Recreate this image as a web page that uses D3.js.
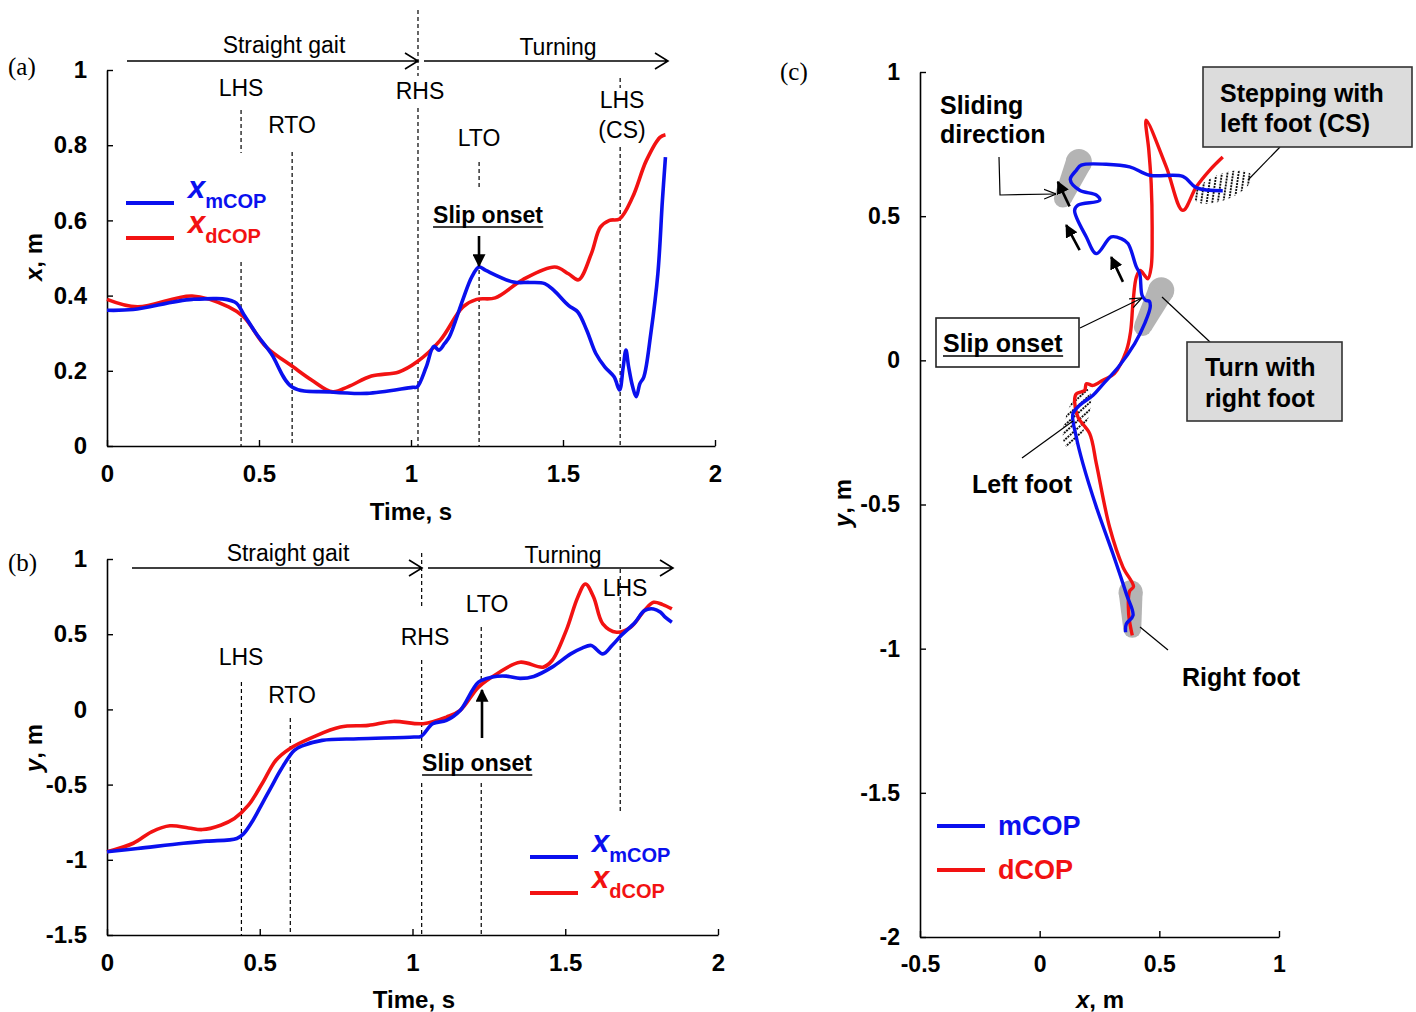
<!DOCTYPE html>
<html><head><meta charset="utf-8">
<script src="https://cdn.jsdelivr.net/npm/d3@7"></script>
<style>
body{margin:0;background:#fff;}
svg{font-family:"Liberation Sans",Arial,Helvetica,sans-serif;}
</style></head><body>
<svg id="chart" width="1416" height="1012"></svg>
<script>
// ---------------- DATA ----------------
// panel (a): x of COP vs time
const tXm = [0,0.086,0.28,0.42,0.45,0.49,0.54,0.61,0.73,0.855,1.005,1.02,1.05,1.075,1.092,1.11,1.126,1.17,1.20,1.224,1.246,1.337,1.39,1.44,1.47,1.518,1.548,1.578,1.608,1.638,1.668,1.686,1.698,1.707,1.716,1.729,1.741,1.753,1.766,1.789,1.812,1.827,1.837];
const xMcop = [0.361,0.363,0.39,0.383,0.35,0.30,0.246,0.156,0.144,0.14,0.156,0.157,0.21,0.265,0.255,0.272,0.29,0.388,0.45,0.476,0.467,0.436,0.435,0.432,0.414,0.374,0.357,0.308,0.246,0.21,0.184,0.149,0.21,0.255,0.21,0.158,0.131,0.166,0.184,0.30,0.458,0.653,0.768];
const tXd = [0,0.10,0.28,0.40,0.45,0.523,0.613,0.674,0.742,0.794,0.87,0.96,1.02,1.096,1.171,1.216,1.277,1.367,1.473,1.518,1.551,1.593,1.623,1.653,1.686,1.729,1.774,1.819,1.837];
const xDcop = [0.39,0.37,0.399,0.37,0.343,0.264,0.21,0.175,0.144,0.158,0.186,0.197,0.224,0.281,0.37,0.39,0.394,0.442,0.476,0.458,0.442,0.511,0.582,0.60,0.604,0.662,0.759,0.821,0.828];
// panel (b): y of COP vs time
const tYm = [0,0.10,0.25,0.327,0.425,0.448,0.478,0.508,0.538,0.568,0.613,0.644,0.704,0.824,1.005,1.028,1.066,1.111,1.156,1.216,1.261,1.307,1.352,1.397,1.457,1.518,1.555,1.585,1.623,1.653,1.683,1.729,1.759,1.789,1.812,1.827,1.849];
const yMcop = [-0.947,-0.925,-0.89,-0.876,-0.858,-0.825,-0.737,-0.626,-0.515,-0.405,-0.272,-0.239,-0.206,-0.195,-0.184,-0.179,-0.095,-0.073,-0.007,0.181,0.215,0.221,0.206,0.219,0.281,0.369,0.407,0.425,0.369,0.425,0.491,0.58,0.657,0.668,0.646,0.613,0.58];
const tYd = [0,0.086,0.146,0.206,0.267,0.312,0.372,0.417,0.463,0.508,0.553,0.598,0.674,0.764,0.855,0.937,1.035,1.111,1.156,1.216,1.277,1.352,1.427,1.457,1.503,1.541,1.566,1.593,1.623,1.668,1.714,1.759,1.789,1.819,1.849];
const yDcop = [-0.947,-0.89,-0.814,-0.774,-0.788,-0.799,-0.77,-0.726,-0.637,-0.493,-0.338,-0.261,-0.184,-0.117,-0.106,-0.08,-0.095,-0.051,-0.007,0.148,0.237,0.314,0.281,0.325,0.524,0.746,0.834,0.746,0.569,0.513,0.546,0.657,0.712,0.697,0.668];
// panel (c): COP trajectories in the ground plane
const cXm = [0.359,0.362,0.39,0.362,0.306,0.237,0.181,0.153,0.139,0.167,0.223,0.264,0.329,0.397,0.44,0.462,0.458,0.443,0.428,0.418,0.404,0.369,0.341,0.299,0.237,0.195,0.146,0.16,0.251,0.237,0.167,0.128,0.153,0.174,0.278,0.376,0.459,0.598,0.654,0.765];
const cYm = [-0.943,-0.914,-0.885,-0.81,-0.671,-0.509,-0.359,-0.266,-0.185,-0.156,-0.121,-0.083,-0.023,0.058,0.13,0.185,0.205,0.208,0.225,0.301,0.324,0.405,0.422,0.428,0.37,0.428,0.52,0.538,0.555,0.573,0.59,0.627,0.659,0.677,0.68,0.671,0.642,0.638,0.599,0.588];
const cXd = [0.387,0.372,0.376,0.392,0.348,0.292,0.237,0.209,0.16,0.146,0.153,0.188,0.195,0.223,0.264,0.312,0.363,0.38,0.39,0.404,0.42,0.438,0.452,0.466,0.47,0.466,0.456,0.445,0.529,0.598,0.654,0.71,0.765];
const cYd = [-0.954,-0.88,-0.8,-0.785,-0.717,-0.578,-0.359,-0.254,-0.197,-0.139,-0.116,-0.104,-0.081,-0.087,-0.069,-0.046,0.035,0.1,0.2,0.289,0.312,0.295,0.283,0.324,0.44,0.613,0.729,0.833,0.671,0.52,0.601,0.659,0.705];
// gait events (s)
const eventNamesA = ["LHS","RTO","RHS","LTO","LHS (CS)"];
const eventTimesA = [0.441,0.609,1.023,1.224,1.688];
const eventNamesB = ["LHS","RTO","RHS","LTO","LHS"];
const eventTimesB = [0.44,0.6,1.03,1.225,1.68];
// ticks
const ticksTime = [0,0.5,1,1.5,2];
const ticksXa = [0,0.2,0.4,0.6,0.8,1];
const ticksYb = [-1.5,-1,-0.5,0,0.5,1];
const ticksXc = [-0.5,0,0.5,1];
const ticksYc = [-2,-1.5,-1,-0.5,0,0.5,1];

const BLUE = "#0a10ee", RED = "#f21212";

// ---------------- DRAW ----------------
const svg = d3.select("#chart");
const defs = svg.append("defs");
defs.append("marker").attr("id","tri").attr("viewBox","0 0 10 10").attr("refX",9).attr("refY",5)
  .attr("markerWidth",5).attr("markerHeight",5).attr("orient","auto-start-reverse").attr("markerUnits","strokeWidth")
  .append("path").attr("d","M0,0 L10,5 L0,10 z").attr("fill","#000");
defs.append("marker").attr("id","openhead").attr("viewBox","0 0 10 10").attr("refX",10).attr("refY",5)
  .attr("markerWidth",12).attr("markerHeight",12).attr("orient","auto").attr("markerUnits","userSpaceOnUse")
  .append("path").attr("d","M0,1 L10,5 L0,9").attr("fill","none").attr("stroke","#000").attr("stroke-width",1);
const pat = defs.append("pattern").attr("id","hatch").attr("patternUnits","userSpaceOnUse")
  .attr("width",5.5).attr("height",6).attr("patternTransform","rotate(30)");
pat.append("line").attr("x1",2.75).attr("y1",0).attr("x2",2.75).attr("y2",6)
  .attr("stroke","#111").attr("stroke-width",1.9).attr("stroke-dasharray","2,1");

const FONT = "'Liberation Sans',Arial,sans-serif";
function styleAxis(g, fs){
  g.select(".domain").attr("stroke","#000").attr("stroke-width",1.6);
  g.selectAll(".tick line").attr("stroke","#000").attr("stroke-width",1.4);
  g.selectAll(".tick text").attr("font-size",fs).attr("font-weight","bold")
    .attr("font-family",FONT).attr("fill","#000");
}
function txt(x,y,s,opt={}){
  const t = svg.append("text").attr("x",x).attr("y",y).text(s)
    .attr("font-size",opt.fs||23).attr("text-anchor",opt.anchor||"middle")
    .attr("font-weight",opt.bold?"bold":"normal").attr("fill",opt.fill||"#000")
    .attr("font-family",opt.family||FONT);
  return t;
}
function underlineText(t){
  const b = t.node().getBBox();
  svg.append("line").attr("x1",b.x).attr("x2",b.x+b.width).attr("y1",+t.attr("y")+4).attr("y2",+t.attr("y")+4)
    .attr("stroke","#000").attr("stroke-width",1.6);
}
function phaseArrow(x1,x2,y){
  svg.append("path").attr("d",`M${x1},${y}H${x2}M${x2-13},${y-8}L${x2},${y}L${x2-13},${y+8}`)
    .attr("fill","none").attr("stroke","#000").attr("stroke-width",1.6);
}
function dashed(x,segs){
  segs.forEach(s=>svg.append("line").attr("x1",x).attr("x2",x).attr("y1",s[0]).attr("y2",s[1])
    .attr("stroke","#000").attr("stroke-width",1.2).attr("stroke-dasharray","4,3"));
}
function axisTitle(x,y,main,rest,rot){
  const t = svg.append("text").attr("text-anchor","middle").attr("font-size",24).attr("font-weight","bold")
    .attr("font-family",FONT).attr("transform",`translate(${x},${y})${rot?" rotate(-90)":""}`);
  t.append("tspan").attr("font-style","italic").text(main);
  t.append("tspan").text(rest);
}
function legendEntry(x,y,color,sym,sub){
  svg.append("line").attr("x1",x).attr("x2",x+48).attr("y1",y).attr("y2",y).attr("stroke",color).attr("stroke-width",4);
  const t = svg.append("text").attr("x",x+62).attr("y",y-5).attr("fill",color).attr("font-weight","bold").attr("font-family",FONT);
  t.append("tspan").attr("font-size",31).attr("font-style","italic").text(sym);
  t.append("tspan").attr("font-size",20).attr("dy",10).text(sub);
}

// ===== Panel (a) =====
const xA = d3.scaleLinear().domain([0,2]).range([107,715]);
const yA = d3.scaleLinear().domain([0,1]).range([446,70]);
styleAxis(svg.append("g").attr("transform","translate(0,446)")
  .call(d3.axisBottom(xA).tickValues(ticksTime).tickFormat(d=>String(d)).tickSizeInner(-6).tickSizeOuter(0).tickPadding(19)),24);
styleAxis(svg.append("g").attr("transform","translate(107,0)")
  .call(d3.axisLeft(yA).tickValues(ticksXa).tickFormat(d=>String(d)).tickSizeInner(-6).tickSizeOuter(0).tickPadding(20)),24);
const segA = [[[110,153],[262,446]],[[152,446]],[[10,76],[108,446]],[[162,188],[263,446]],[[78,88],[147,446]]];
eventTimesA.forEach((t,i)=>dashed(xA(t),segA[i]));
const labA = [[241,96],[292,133],[420,99],[479,146],[622,108]];
eventNamesA.forEach((n,i)=>{
  if(n.includes("(")){ const p=n.split(" "); txt(labA[i][0],labA[i][1],p[0]); txt(labA[i][0],labA[i][1]+30,p[1]); }
  else txt(labA[i][0],labA[i][1],n);
});
phaseArrow(127,418,61); phaseArrow(424,668,61);
txt(284,53,"Straight gait"); txt(558,55,"Turning");
const lineA = (ts,vs)=>d3.line().x((d,i)=>xA(ts[i])).y(d=>yA(d)).curve(d3.curveCatmullRom.alpha(0.5))(vs);
svg.append("path").attr("d",lineA(tXd,xDcop)).attr("fill","none").attr("stroke",RED).attr("stroke-width",3.6);
svg.append("path").attr("d",lineA(tXm,xMcop)).attr("fill","none").attr("stroke",BLUE).attr("stroke-width",3.6);
legendEntry(126,203,BLUE,"x","mCOP");
legendEntry(126,238,RED,"x","dCOP");
underlineText(txt(488,223,"Slip onset",{bold:true,fs:23}));
svg.append("line").attr("x1",479).attr("x2",479).attr("y1",236).attr("y2",266).attr("stroke","#000").attr("stroke-width",2.6).attr("marker-end","url(#tri)");
axisTitle(42,257,"x",", m",true);
txt(411,520,"Time, s",{bold:true,fs:24});
txt(8,75,"(a)",{anchor:"start",fs:25,family:"'Liberation Serif','Times New Roman',serif"});

// ===== Panel (b) =====
const xB = d3.scaleLinear().domain([0,2]).range([107,718]);
const yB = d3.scaleLinear().domain([-1.5,1]).range([935,559]);
styleAxis(svg.append("g").attr("transform","translate(0,935)")
  .call(d3.axisBottom(xB).tickValues(ticksTime).tickFormat(d=>String(d)).tickSizeInner(-6).tickSizeOuter(0).tickPadding(19)),24);
styleAxis(svg.append("g").attr("transform","translate(107,0)")
  .call(d3.axisLeft(yB).tickValues(ticksYb).tickFormat(d=>String(d)).tickSizeInner(-6).tickSizeOuter(0).tickPadding(20)),24);
const segB = [[[682,935]],[[718,935]],[[553,608],[660,750],[783,935]],[[627,680],[783,935]],[[569,813]]];
eventTimesB.forEach((t,i)=>dashed(xB(t),segB[i]));
const labB = [[241,665],[292,703],[425,645],[487,612],[625,596]];
eventNamesB.forEach((n,i)=>txt(labB[i][0],labB[i][1],n));
phaseArrow(132,422,568); phaseArrow(428,673,568);
txt(288,561,"Straight gait"); txt(563,563,"Turning");
const lineB = (ts,vs)=>d3.line().x((d,i)=>xB(ts[i])).y(d=>yB(d)).curve(d3.curveCatmullRom.alpha(0.5))(vs);
svg.append("path").attr("d",lineB(tYd,yDcop)).attr("fill","none").attr("stroke",RED).attr("stroke-width",3.6);
svg.append("path").attr("d",lineB(tYm,yMcop)).attr("fill","none").attr("stroke",BLUE).attr("stroke-width",3.6);
legendEntry(530,857,BLUE,"x","mCOP");
legendEntry(530,893,RED,"x","dCOP");
underlineText(txt(477,771,"Slip onset",{bold:true,fs:23}));
svg.append("line").attr("x1",482).attr("x2",482).attr("y1",738).attr("y2",690).attr("stroke","#000").attr("stroke-width",2.6).attr("marker-end","url(#tri)");
axisTitle(42,748,"y",", m",true);
txt(414,1008,"Time, s",{bold:true,fs:24});
txt(8,571,"(b)",{anchor:"start",fs:25,family:"'Liberation Serif','Times New Roman',serif"});

// ===== Panel (c) =====
const xC = d3.scaleLinear().domain([-0.5,1]).range([920,1279]);
const yC = d3.scaleLinear().domain([-2,1]).range([937,72]);
styleAxis(svg.append("g").attr("transform","translate(0,937)")
  .call(d3.axisBottom(xC).tickValues(ticksXc).tickFormat(d=>String(d)).tickSizeInner(-6).tickSizeOuter(0).tickPadding(19)),23);
styleAxis(svg.append("g").attr("transform","translate(920,0)")
  .call(d3.axisLeft(yC).tickValues(ticksYc).tickFormat(d=>String(d)).tickSizeInner(-6).tickSizeOuter(0).tickPadding(20)),23);

// foot shapes (gray capsules)
function foot(p1,r1,p2,r2){
  const x1=xC(p1[0]),y1=yC(p1[1]),x2=xC(p2[0]),y2=yC(p2[1]);
  const a=Math.atan2(y2-y1,x2-x1), nx=-Math.sin(a), ny=Math.cos(a);
  const g=svg.append("g").attr("fill","#b4b4b4");
  g.append("circle").attr("cx",x1).attr("cy",y1).attr("r",r1);
  g.append("circle").attr("cx",x2).attr("cy",y2).attr("r",r2);
  g.append("path").attr("d",`M${x1+nx*r1},${y1+ny*r1}L${x2+nx*r2},${y2+ny*r2}L${x2-nx*r2},${y2-ny*r2}L${x1-nx*r1},${y1-ny*r1}Z`);
}
foot([0.164,0.688],13,[0.097,0.561],9);
foot([0.508,0.243],13,[0.431,0.116],9);
foot([0.38,-0.804],12,[0.387,-0.931],9);
// hatched left-foot areas
function hatch(cx,cy,rx,ry,rot){
  svg.append("ellipse").attr("cx",0).attr("cy",0).attr("rx",rx).attr("ry",ry)
    .attr("transform",`translate(${xC(cx)},${yC(cy)}) rotate(${rot})`).attr("fill","url(#hatch)");
}
hatch(0.765,0.601,31,13,-22);
hatch(0.156,-0.199,11,31,18);

const lineC = (xs,ys)=>d3.line().x(d=>xC(d)).y((d,i)=>yC(ys[i])).curve(d3.curveCatmullRom.alpha(0.5))(xs);
svg.append("path").attr("d",lineC(cXd,cYd)).attr("fill","none").attr("stroke",RED).attr("stroke-width",3.4);
svg.append("path").attr("d",lineC(cXm,cYm)).attr("fill","none").attr("stroke",BLUE).attr("stroke-width",3.4);

// sliding direction arrows
[[[0.167,0.382],[0.111,0.469]],[[0.348,0.272],[0.299,0.358]],[[0.125,0.534],[0.076,0.619]]].forEach(a=>{
  svg.append("line").attr("x1",xC(a[0][0])).attr("y1",yC(a[0][1])).attr("x2",xC(a[1][0])).attr("y2",yC(a[1][1]))
    .attr("stroke","#000").attr("stroke-width",2.6).attr("marker-end","url(#tri)");
});
// callouts
const thin = d => svg.append("path").attr("d",d).attr("fill","none").attr("stroke","#000").attr("stroke-width",1.2);
thin("M999,157L1000,195L1056,194").attr("marker-end","url(#openhead)");
thin("M1280,147L1248,180");
thin("M1080,328L1142,298").attr("marker-end","url(#openhead)");
thin("M1210,342L1162,297");
thin("M1022,458L1073,421");
thin("M1168,650L1140,627");

const tb = (x,y,s,opt={}) => txt(x,y,s,Object.assign({bold:true,fs:25,anchor:"start"},opt));
tb(940,114,"Sliding"); tb(940,143,"direction");
svg.append("rect").attr("x",1203).attr("y",67).attr("width",209).attr("height",80).attr("fill","#dcdcdc").attr("stroke","#333").attr("stroke-width",1.6);
tb(1220,102,"Stepping with"); tb(1220,132,"left foot (CS)");
svg.append("rect").attr("x",936).attr("y",318).attr("width",143).attr("height",49).attr("fill","#fff").attr("stroke","#222").attr("stroke-width",1.6);
underlineText(tb(943,352,"Slip onset"));
svg.append("rect").attr("x",1187).attr("y",342).attr("width",155).attr("height",79).attr("fill","#dcdcdc").attr("stroke","#333").attr("stroke-width",1.6);
tb(1205,376,"Turn with"); tb(1205,407,"right foot");
tb(972,493,"Left foot");
tb(1182,686,"Right foot");
// legend (c)
svg.append("line").attr("x1",937).attr("x2",985).attr("y1",826).attr("y2",826).attr("stroke",BLUE).attr("stroke-width",4);
txt(998,835,"mCOP",{bold:true,fs:27,anchor:"start",fill:BLUE});
svg.append("line").attr("x1",937).attr("x2",985).attr("y1",870).attr("y2",870).attr("stroke",RED).attr("stroke-width",4);
txt(998,879,"dCOP",{bold:true,fs:27,anchor:"start",fill:RED});
axisTitle(851,503,"y",", m",true);
axisTitle(1100,1008,"x",", m",false);
txt(780,80,"(c)",{anchor:"start",fs:25,family:"'Liberation Serif','Times New Roman',serif"});
</script></body></html>
